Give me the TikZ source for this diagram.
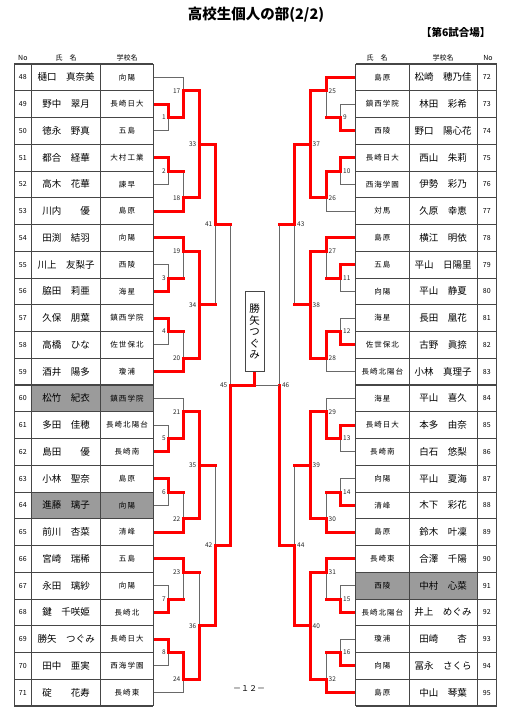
\documentclass[tikz,border=0pt]{standalone}
\usepackage{fontspec}
\setmainfont{Noto Sans CJK JP}
\newfontfamily\schoolfont{Noto Sans CJK JP}[LetterSpace=14]

\definecolor{linegray}{RGB}{105,105,105}
\definecolor{gridgray}{RGB}{70,70,70}
\definecolor{hlgray}{RGB}{155,155,155}
\definecolor{winred}{RGB}{255,0,0}

\tikzset{
  bline/.style={draw=linegray, line width=0.9pt},
  wline/.style={draw=winred, line width=3pt, line cap=rect},
  gridline/.style={draw=gridgray, line width=0.7pt},
  numtxt/.style={font=\fontsize{7}{8}\selectfont, inner sep=0pt},
  nametxt/.style={font=\fontsize{9.5}{11}\selectfont, inner sep=0pt},
  schooltxt/.style={font=\fontsize{7.5}{9}\schoolfont, inner sep=0pt},
  headtxt/.style={font=\fontsize{7}{8}\selectfont, inner sep=0pt},
  boutno/.style={font=\fontsize{6.5}{7}\selectfont, inner sep=1.5pt, text=black!85},
  champbox/.style={draw=gridgray, fill=white, line width=0.8pt, minimum width=19pt,
    minimum height=80pt, inner sep=0pt, align=center, font=\fontsize{10.5}{11.5}\selectfont}
}

% 選手一覧 (No/氏名/学校名)
\def\leftplayers{48/樋口　真奈美/向陽, 49/野中　翠月/長崎日大, 50/徳永　野真/五島,
  51/都合　経華/大村工業, 52/高木　花華/諫早, 53/川内　　優/島原,
  54/田渕　結羽/向陽, 55/川上　友梨子/西陵, 56/脇田　莉亜/海星,
  57/久保　朋葉/鎮西学院, 58/高橋　ひな/佐世保北, 59/酒井　陽多/瓊浦,
  60/松竹　紀衣/鎮西学院, 61/多田　佳穂/長崎北陽台, 62/島田　　優/長崎南,
  63/小林　聖奈/島原, 64/進藤　璃子/向陽, 65/前川　杏菜/清峰,
  66/宮崎　瑞稀/五島, 67/永田　璃紗/向陽, 68/鍵　千咲姫/長崎北,
  69/勝矢　つぐみ/長崎日大, 70/田中　亜実/西海学園, 71/碇　　花寿/長崎東}
\def\rightplayers{72/島原/松崎　穂乃佳, 73/鎮西学院/林田　彩希, 74/西陵/野口　陽心花,
  75/長崎日大/西山　朱莉, 76/西海学園/伊勢　彩乃, 77/対馬/久原　幸恵,
  78/島原/横江　明依, 79/五島/平山　日陽里, 80/向陽/平山　静夏,
  81/海星/長田　凰花, 82/佐世保北/古野　眞捺, 83/長崎北陽台/小林　真理子,
  84/海星/平山　喜久, 85/長崎日大/本多　由奈, 86/長崎南/白石　悠梨,
  87/向陽/平山　夏海, 88/清峰/木下　彩花, 89/島原/鈴木　叶凜,
  90/長崎東/合澤　千陽, 91/西陵/中村　心菜, 92/長崎北陽台/井上　めぐみ,
  93/瓊浦/田崎　　杏, 94/向陽/冨永　さくら, 95/島原/中山　琴葉}

% 試合 (番号/x/出口の行境界/上/下/勝者)
\def\leftbouts{1/168.5/2/p49/p50/p49, 17/183/1/p48/m1/m1,
  2/168.5/4/p51/p52/p51, 18/183/5/m2/p53/p53,
  3/168.5/8/p55/p56/p56, 19/183/7/p54/m3/p54,
  4/168.5/10/p57/p58/p57, 20/183/11/m4/p59/p59,
  5/168.5/14/p61/p62/p62, 21/183/13/p60/m5/m5,
  6/168.5/16/p63/p64/p63, 22/183/17/m6/p65/p65,
  7/168.5/20/p67/p68/p68, 23/183/19/p66/m7/p66,
  8/168.5/22/p69/p70/p69, 24/183/23/m8/p71/m8,
  33/199/3/m17/m18/m17, 34/199/9/m19/m20/m20,
  35/199/15/m21/m22/m21, 36/199/21/m23/m24/m24,
  41/215/6/m33/m34/m33, 42/215/18/m35/m36/m36,
  45/230/12/m41/m42/m42}
\def\rightbouts{9/340.5/2/p73/p74/p74, 25/326/1/p72/m9/p72,
  10/340.5/4/p75/p76/p75, 26/326/5/m10/p77/m10,
  11/340.5/8/p79/p80/p79, 27/326/7/p78/m11/p78,
  12/340.5/10/p81/p82/p82, 28/326/11/m12/p83/m12,
  13/340.5/14/p85/p86/p85, 29/326/13/p84/m13/m13,
  14/340.5/16/p87/p88/p88, 30/326/17/m14/p89/p89,
  15/340.5/20/p91/p92/p92, 31/326/19/p90/m15/p90,
  16/340.5/22/p93/p94/p94, 32/326/23/m16/p95/p95,
  37/310/3/m25/m26/m25, 38/310/9/m27/m28/m27,
  39/310/15/m29/m30/m29, 40/310/21/m31/m32/m32,
  43/294.5/6/m37/m38/m37, 44/294.5/18/m39/m40/m40,
  46/279.3/12/m43/m44/m44}
% 勝ち上がり (試合/次の試合)
\def\exits{1/17, 2/18, 3/19, 4/20, 5/21, 6/22, 7/23, 8/24,
  17/33, 18/33, 19/34, 20/34, 21/35, 22/35, 23/36, 24/36,
  33/41, 34/41, 35/42, 36/42, 41/45, 42/45,
  9/25, 10/26, 11/27, 12/28, 13/29, 14/30, 15/31, 16/32,
  25/37, 26/37, 27/38, 28/38, 29/39, 30/39, 31/40, 32/40,
  37/43, 38/43, 39/44, 40/44, 43/46, 44/46}
% 両側とも赤の試合 (試合/もう一方)
\def\bothred{33/m18, 34/m19, 35/m22, 37/m26, 38/m28, 39/m30, 40/m31}

\begin{document}
\begin{tikzpicture}[x=1pt, y=-1pt]
  \useasboundingbox (0,0) rectangle (514,720);

  % 座標
  \foreach \no/\nm/\sc [count=\i from 0] in \leftplayers {
    \pgfmathsetmacro\yy{64+26.75*(\i+0.5)}
    \coordinate (p\no) at (153.3,\yy);
  }
  \foreach \no/\sc/\nm [count=\i from 0] in \rightplayers {
    \pgfmathsetmacro\yy{64+26.75*(\i+0.5)}
    \coordinate (p\no) at (355.7,\yy);
  }
  \foreach \m/\x/\k/\a/\b/\w in \leftbouts
    \coordinate (m\m) at (\x,{64+26.75*\k});
  \foreach \m/\x/\k/\a/\b/\w in \rightbouts
    \coordinate (m\m) at (\x,{64+26.75*\k});

  % トーナメント線
  \foreach \m/\x/\k/\a/\b/\w in \leftbouts {
    \draw[bline] (\a) -| (m\m);
    \draw[bline] (\b) -| (m\m);
    \node[boutno, anchor=east, xshift=-1pt] (t\m) at (m\m) {\m};
  }
  \foreach \m/\x/\k/\a/\b/\w in \rightbouts {
    \draw[bline] (\a) -| (m\m);
    \draw[bline] (\b) -| (m\m);
    \node[boutno, anchor=west, xshift=1pt] (t\m) at (m\m) {\m};
  }

  % 勝ち上がり (赤)
  \foreach \m/\n in \exits
    \draw[wline] (m\m) -- (m\m -| m\n);
  \foreach \m/\x/\k/\a/\b/\w in \leftbouts
    \draw[wline] (\w) -| (m\m);
  \foreach \m/\x/\k/\a/\b/\w in \rightbouts
    \draw[wline] (\w) -| (m\m);
  \foreach \m/\o in \bothred
    \draw[wline] (\o) -| (m\m);

  % 優勝
  \node[champbox] (champ) at (254.5,331.7) {勝\\矢\\つ\\ぐ\\み};
  \draw[bline] (m46) -- (m46 -| champ.south);
  \draw[wline, line cap=butt] (m45) -| (champ.south);

  % 表
  \foreach \xa/\xb in {14/153.3, 355.7/496.7}
    \fill[white] (\xa,64) rectangle (\xb,706);
  \fill[hlgray] (31.7,{64+26.75*12}) rectangle (153.3,{64+26.75*13});
  \fill[hlgray] (31.7,{64+26.75*16}) rectangle (153.3,{64+26.75*17});
  \fill[hlgray] (355.7,{64+26.75*19}) rectangle (477,{64+26.75*20});
  \foreach \xa/\xb in {14/153.3, 355.7/496.7} {
    \foreach \k in {0,...,24} {
      \pgfmathsetmacro\yy{64+26.75*\k}
      \pgfmathsetmacro\lw{mod(\k,3)==0 ? 1.3 : 0.7}
      \draw[gridline, line width=\lw pt] (\xa,\yy) -- (\xb,\yy);
    }
  }
  \foreach \xx in {14, 31.7, 100.7, 153.3, 355.7, 409, 477, 496.7}
    \draw[gridline, line width=1pt] (\xx,64) -- (\xx,706);

  % 文字
  \foreach \no/\nm/\sc [count=\i from 0] in \leftplayers {
    \pgfmathsetmacro\yy{64+26.75*(\i+0.5)}
    \node[numtxt] (no\no) at (22.85,\yy) {\no};
    \node[nametxt] (nm\no) at (66.2,\yy) {\nm};
    \node[schooltxt] (sc\no) at (127,\yy) {\sc};
  }
  \foreach \no/\sc/\nm [count=\i from 0] in \rightplayers {
    \pgfmathsetmacro\yy{64+26.75*(\i+0.5)}
    \node[schooltxt] (sc\no) at (382.35,\yy) {\sc};
    \node[nametxt] (nm\no) at (443,\yy) {\nm};
    \node[numtxt] (no\no) at (486.85,\yy) {\no};
  }

  % 見出し
  \node[headtxt] (hno) at (22.85,58) {No};
  \node[headtxt] (hnm) at (66.2,58) {氏　名};
  \node[headtxt] (hsc) at (127,58) {学校名};
  \node[headtxt] (rhnm) at (377,58) {氏　名};
  \node[headtxt] (rhsc) at (443,58) {学校名};
  \node[headtxt] (rhno) at (488,58) {No};
  \node[font=\fontsize{14.5}{16}\selectfont\bfseries] (title) at (256,15) {高校生個人の部(2/2)};
  \node[font=\fontsize{10.5}{12}\selectfont\bfseries, anchor=east] (venue) at (494,32.5) {【第6試合場】};
  \node[font=\fontsize{8}{9}\selectfont] (page) at (249,689) {－１２－};
\end{tikzpicture}
\end{document}
